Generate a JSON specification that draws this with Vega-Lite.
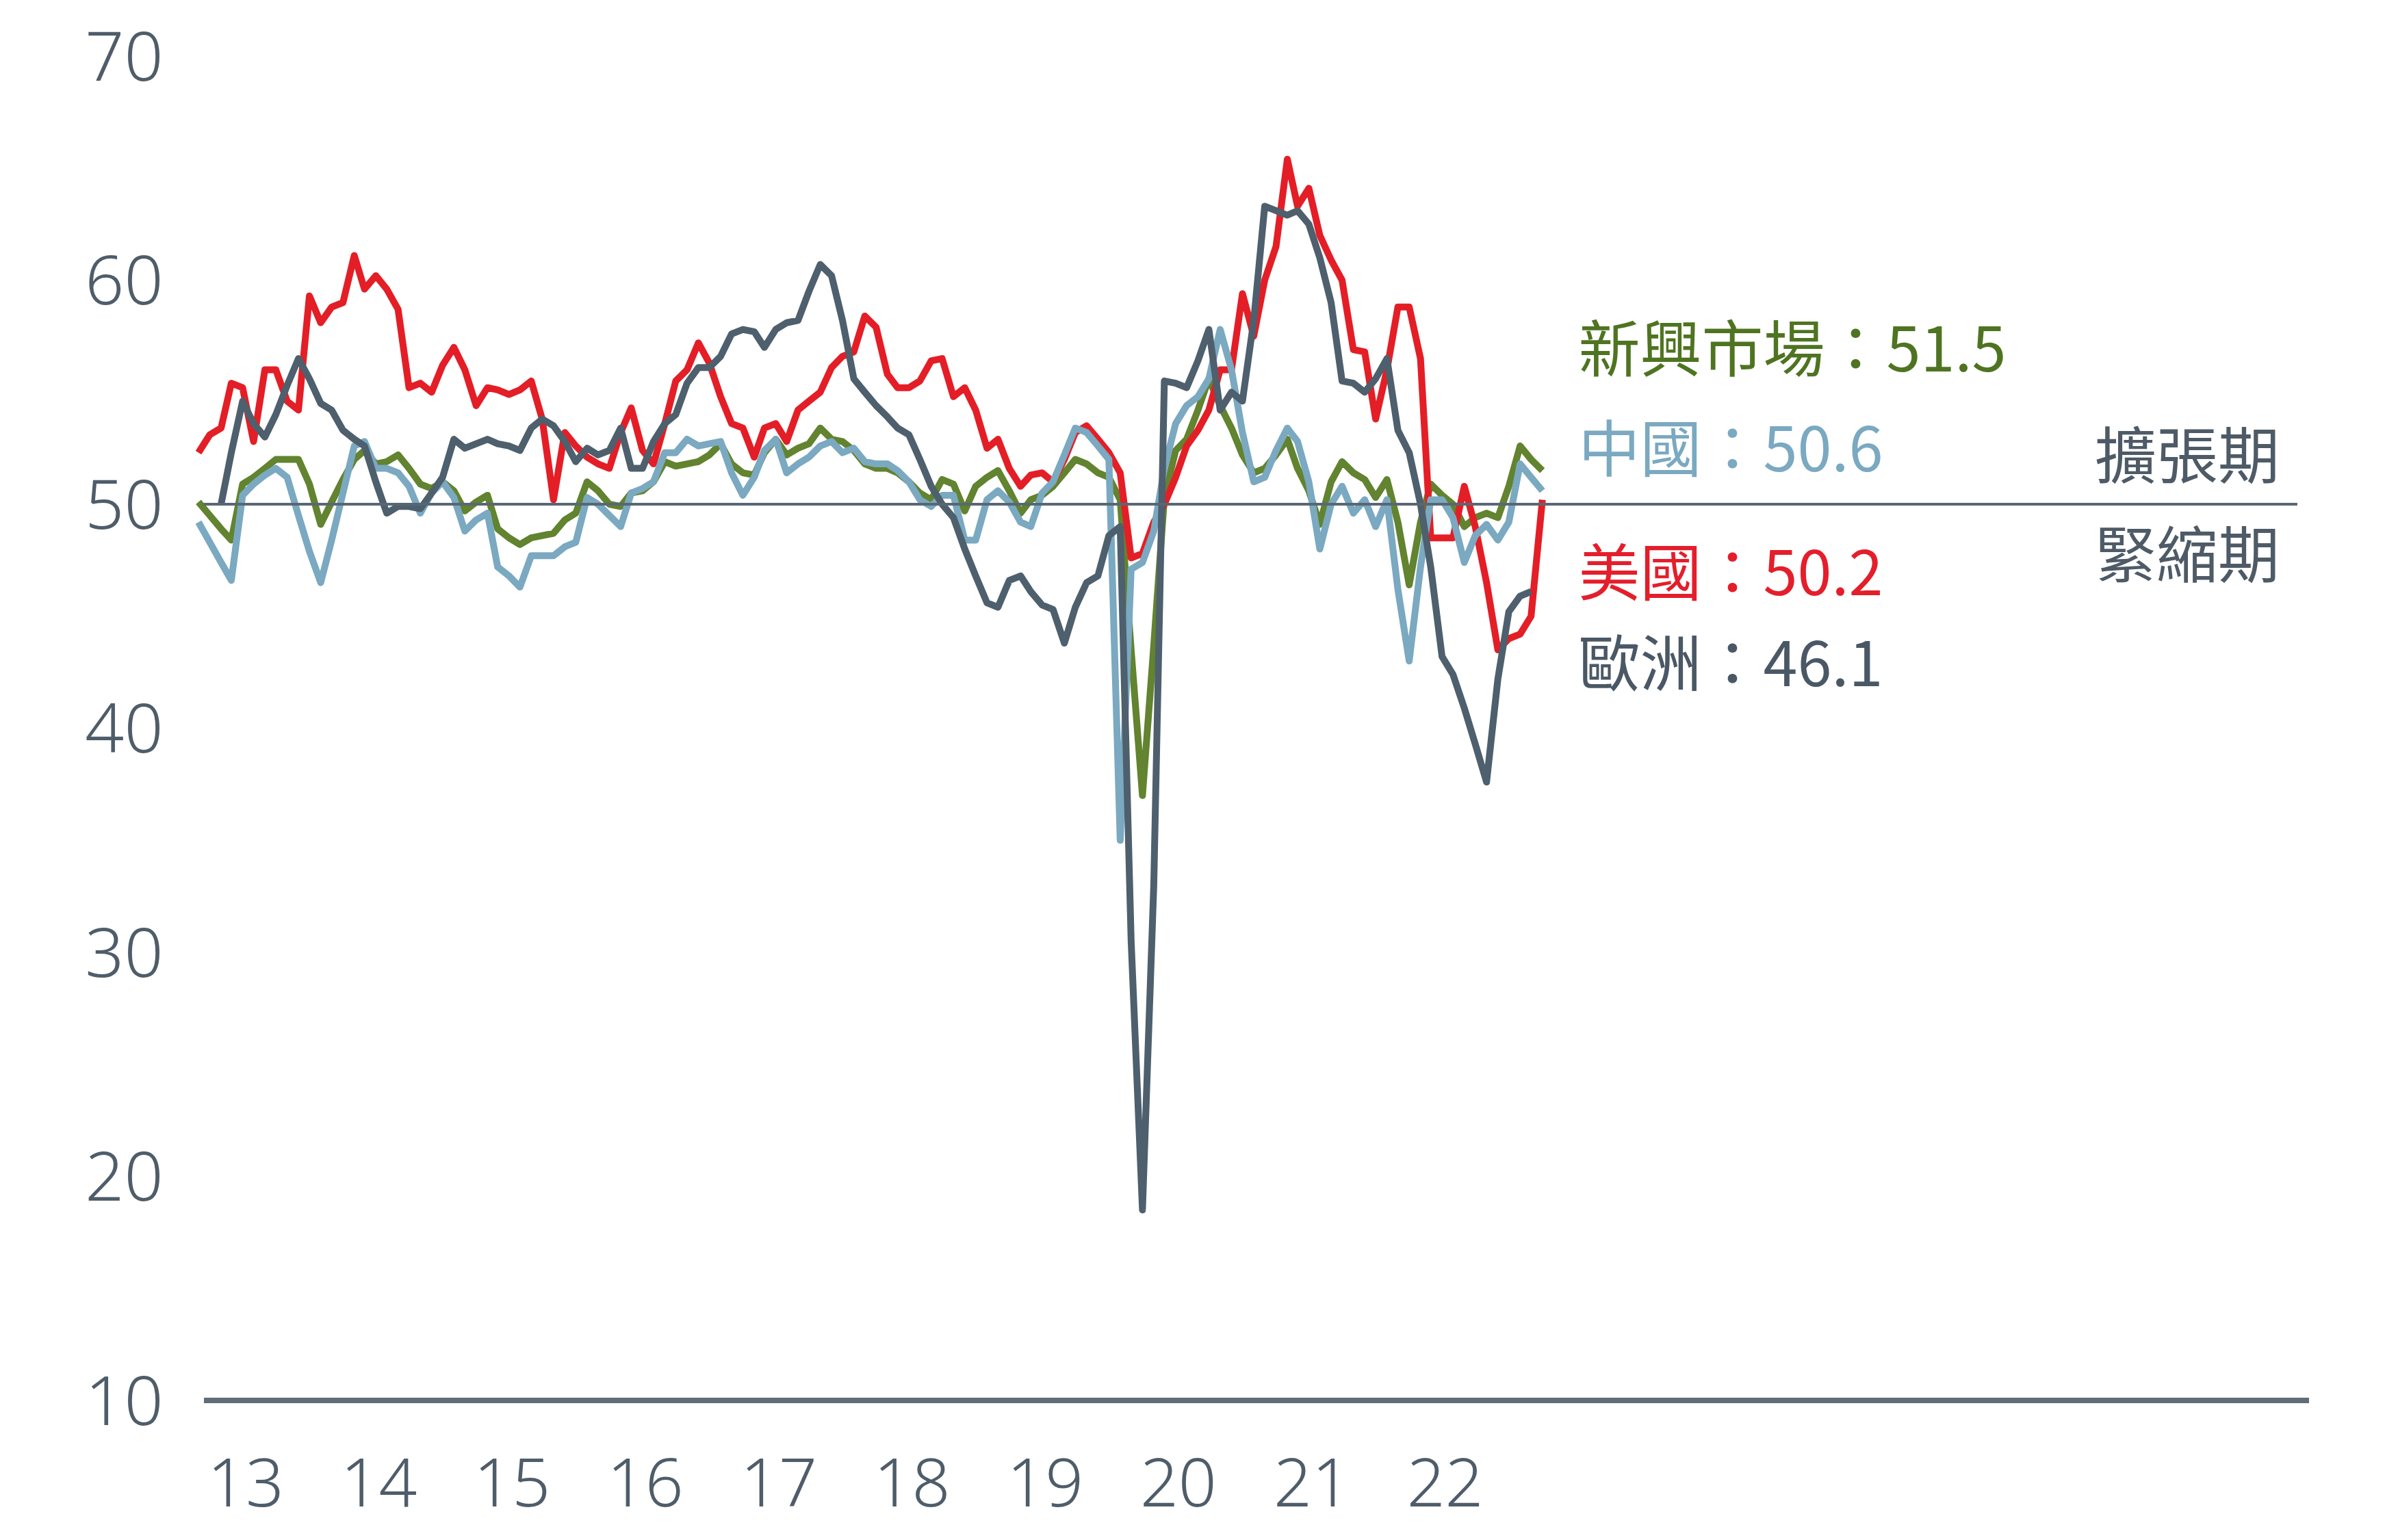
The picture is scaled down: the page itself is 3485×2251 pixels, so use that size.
{
  "$schema": "https://vega.github.io/schema/vega-lite/v6.json",
  "width": 3084,
  "height": 1965,
  "autosize": {"type": "none"},
  "padding": {"left": 290, "top": 82, "right": 111, "bottom": 204},
  "background": "#ffffff",
  "config": {"view": {"stroke": null}},
  "datasets": {
    "pmi": [
      {"d": "2012-12-01", "us": 52.3, "em": 50.1, "cn": 49.2, "eu": null},
      {"d": "2013-01-01", "us": 53.1, "em": 49.5, "cn": 48.3, "eu": null},
      {"d": "2013-02-01", "us": 53.4, "em": 48.9, "cn": 47.4, "eu": 50.0},
      {"d": "2013-03-01", "us": 55.4, "em": 48.4, "cn": 46.6, "eu": 52.3},
      {"d": "2013-04-01", "us": 55.2, "em": 50.9, "cn": 50.4, "eu": 54.6},
      {"d": "2013-05-01", "us": 52.8, "em": 51.2, "cn": 50.9, "eu": 53.6},
      {"d": "2013-06-01", "us": 56.0, "em": 51.6, "cn": 51.3, "eu": 53.0},
      {"d": "2013-07-01", "us": 56.0, "em": 52.0, "cn": 51.6, "eu": 54.0},
      {"d": "2013-08-01", "us": 54.6, "em": 52.0, "cn": 51.2, "eu": 55.3},
      {"d": "2013-09-01", "us": 54.2, "em": 52.0, "cn": 49.5, "eu": 56.5},
      {"d": "2013-10-01", "us": 59.3, "em": 50.9, "cn": 47.9, "eu": 55.6},
      {"d": "2013-11-01", "us": 58.1, "em": 49.1, "cn": 46.5, "eu": 54.5},
      {"d": "2013-12-01", "us": 58.8, "em": 50.1, "cn": 48.4, "eu": 54.2},
      {"d": "2014-01-01", "us": 59.0, "em": 51.1, "cn": 50.5, "eu": 53.3},
      {"d": "2014-02-01", "us": 61.1, "em": 52.0, "cn": 52.6, "eu": 52.9},
      {"d": "2014-03-01", "us": 59.6, "em": 52.4, "cn": 52.8, "eu": 52.6},
      {"d": "2014-04-01", "us": 60.2, "em": 51.8, "cn": 51.6, "eu": 51.0},
      {"d": "2014-05-01", "us": 59.6, "em": 51.9, "cn": 51.6, "eu": 49.6},
      {"d": "2014-06-01", "us": 58.7, "em": 52.2, "cn": 51.4, "eu": 49.9},
      {"d": "2014-07-01", "us": 55.2, "em": 51.6, "cn": 50.8, "eu": 49.9},
      {"d": "2014-08-01", "us": 55.4, "em": 50.9, "cn": 49.6, "eu": 49.8},
      {"d": "2014-09-01", "us": 55.0, "em": 50.7, "cn": 50.5, "eu": 50.5},
      {"d": "2014-10-01", "us": 56.2, "em": 51.0, "cn": 51.0, "eu": 51.2},
      {"d": "2014-11-01", "us": 57.0, "em": 50.6, "cn": 50.3, "eu": 52.9},
      {"d": "2014-12-01", "us": 56.0, "em": 49.7, "cn": 48.8, "eu": 52.5},
      {"d": "2015-01-01", "us": 54.4, "em": 50.1, "cn": 49.3, "eu": 52.7},
      {"d": "2015-02-01", "us": 55.2, "em": 50.4, "cn": 49.6, "eu": 52.9},
      {"d": "2015-03-01", "us": 55.1, "em": 48.9, "cn": 47.2, "eu": 52.7},
      {"d": "2015-04-01", "us": 54.9, "em": 48.5, "cn": 46.8, "eu": 52.6},
      {"d": "2015-05-01", "us": 55.1, "em": 48.2, "cn": 46.3, "eu": 52.4},
      {"d": "2015-06-01", "us": 55.5, "em": 48.5, "cn": 47.7, "eu": 53.4},
      {"d": "2015-07-01", "us": 53.8, "em": 48.6, "cn": 47.7, "eu": 53.8},
      {"d": "2015-08-01", "us": 50.2, "em": 48.7, "cn": 47.7, "eu": 53.5},
      {"d": "2015-09-01", "us": 53.2, "em": 49.3, "cn": 48.1, "eu": 52.8},
      {"d": "2015-10-01", "us": 52.6, "em": 49.6, "cn": 48.3, "eu": 51.9},
      {"d": "2015-11-01", "us": 52.1, "em": 51.0, "cn": 50.3, "eu": 52.5},
      {"d": "2015-12-01", "us": 51.8, "em": 50.6, "cn": 50.0, "eu": 52.2},
      {"d": "2016-01-01", "us": 51.6, "em": 50.0, "cn": 49.5, "eu": 52.4},
      {"d": "2016-02-01", "us": 53.2, "em": 49.9, "cn": 49.0, "eu": 53.4},
      {"d": "2016-03-01", "us": 54.3, "em": 50.5, "cn": 50.5, "eu": 51.6},
      {"d": "2016-04-01", "us": 52.4, "em": 50.6, "cn": 50.7, "eu": 51.6},
      {"d": "2016-05-01", "us": 51.8, "em": 51.0, "cn": 51.0, "eu": 52.8},
      {"d": "2016-06-01", "us": 53.6, "em": 51.9, "cn": 52.3, "eu": 53.6},
      {"d": "2016-07-01", "us": 55.5, "em": 51.7, "cn": 52.3, "eu": 54.0},
      {"d": "2016-08-01", "us": 56.0, "em": 51.8, "cn": 52.9, "eu": 55.4},
      {"d": "2016-09-01", "us": 57.2, "em": 51.9, "cn": 52.6, "eu": 56.1},
      {"d": "2016-10-01", "us": 56.3, "em": 52.2, "cn": 52.7, "eu": 56.1},
      {"d": "2016-11-01", "us": 54.8, "em": 52.7, "cn": 52.8, "eu": 56.6},
      {"d": "2016-12-01", "us": 53.6, "em": 51.8, "cn": 51.4, "eu": 57.6},
      {"d": "2017-01-01", "us": 53.4, "em": 51.4, "cn": 50.4, "eu": 57.8},
      {"d": "2017-02-01", "us": 52.1, "em": 51.3, "cn": 51.2, "eu": 57.7},
      {"d": "2017-03-01", "us": 53.4, "em": 52.3, "cn": 52.4, "eu": 57.0},
      {"d": "2017-04-01", "us": 53.6, "em": 52.9, "cn": 52.9, "eu": 57.8},
      {"d": "2017-05-01", "us": 52.8, "em": 52.2, "cn": 51.4, "eu": 58.1},
      {"d": "2017-06-01", "us": 54.2, "em": 52.5, "cn": 51.8, "eu": 58.2},
      {"d": "2017-07-01", "us": 54.6, "em": 52.7, "cn": 52.1, "eu": 59.5},
      {"d": "2017-08-01", "us": 55.0, "em": 53.4, "cn": 52.6, "eu": 60.7},
      {"d": "2017-09-01", "us": 56.1, "em": 52.9, "cn": 52.8, "eu": 60.2},
      {"d": "2017-10-01", "us": 56.6, "em": 52.8, "cn": 52.3, "eu": 58.2},
      {"d": "2017-11-01", "us": 56.8, "em": 52.4, "cn": 52.5, "eu": 55.6},
      {"d": "2017-12-01", "us": 58.4, "em": 51.8, "cn": 51.9, "eu": 55.0},
      {"d": "2018-01-01", "us": 57.9, "em": 51.6, "cn": 51.8, "eu": 54.4},
      {"d": "2018-02-01", "us": 55.8, "em": 51.6, "cn": 51.8, "eu": 53.9},
      {"d": "2018-03-01", "us": 55.2, "em": 51.4, "cn": 51.5, "eu": 53.4},
      {"d": "2018-04-01", "us": 55.2, "em": 51.0, "cn": 51.0, "eu": 53.1},
      {"d": "2018-05-01", "us": 55.5, "em": 50.5, "cn": 50.2, "eu": 52.0},
      {"d": "2018-06-01", "us": 56.4, "em": 50.2, "cn": 49.9, "eu": 50.8},
      {"d": "2018-07-01", "us": 56.5, "em": 51.1, "cn": 50.4, "eu": 50.0},
      {"d": "2018-08-01", "us": 54.8, "em": 50.9, "cn": 50.4, "eu": 49.4},
      {"d": "2018-09-01", "us": 55.2, "em": 49.7, "cn": 48.4, "eu": 48.0},
      {"d": "2018-10-01", "us": 54.2, "em": 50.8, "cn": 48.4, "eu": 46.8},
      {"d": "2018-11-01", "us": 52.5, "em": 51.2, "cn": 50.2, "eu": 45.6},
      {"d": "2018-12-01", "us": 52.9, "em": 51.5, "cn": 50.6, "eu": 45.4},
      {"d": "2019-01-01", "us": 51.6, "em": 50.6, "cn": 50.1, "eu": 46.6},
      {"d": "2019-02-01", "us": 50.8, "em": 49.6, "cn": 49.2, "eu": 46.8},
      {"d": "2019-03-01", "us": 51.3, "em": 50.2, "cn": 49.0, "eu": 46.1},
      {"d": "2019-04-01", "us": 51.4, "em": 50.4, "cn": 50.5, "eu": 45.5},
      {"d": "2019-05-01", "us": 51.0, "em": 50.8, "cn": 51.0, "eu": 45.3},
      {"d": "2019-06-01", "us": 52.0, "em": 51.4, "cn": 52.2, "eu": 43.8},
      {"d": "2019-07-01", "us": 53.2, "em": 52.0, "cn": 53.4, "eu": 45.4},
      {"d": "2019-08-01", "us": 53.5, "em": 51.8, "cn": 53.2, "eu": 46.5},
      {"d": "2019-09-01", "us": 52.9, "em": 51.4, "cn": 52.6, "eu": 46.8},
      {"d": "2019-10-01", "us": 52.3, "em": 51.2, "cn": 52.0, "eu": 48.6},
      {"d": "2019-11-01", "us": 51.4, "em": 50.2, "cn": 35.0, "eu": 49.0},
      {"d": "2019-12-01", "us": 47.6, "em": 43.5, "cn": 47.1, "eu": 30.5},
      {"d": "2020-01-01", "us": 47.8, "em": 37.0, "cn": 47.4, "eu": 18.5},
      {"d": "2020-02-01", "us": 49.2, "em": 43.7, "cn": 48.8, "eu": 33.0},
      {"d": "2020-03-01", "us": 50.0, "em": 50.3, "cn": 51.6, "eu": 55.5},
      {"d": "2020-04-01", "us": 51.2, "em": 52.4, "cn": 53.6, "eu": 55.4},
      {"d": "2020-05-01", "us": 52.6, "em": 52.9, "cn": 54.4, "eu": 55.2},
      {"d": "2020-06-01", "us": 53.3, "em": 54.2, "cn": 54.8, "eu": 56.4},
      {"d": "2020-07-01", "us": 54.2, "em": 55.6, "cn": 55.6, "eu": 57.8},
      {"d": "2020-08-01", "us": 56.0, "em": 54.4, "cn": 57.8, "eu": 54.2},
      {"d": "2020-09-01", "us": 56.0, "em": 53.4, "cn": 56.0, "eu": 55.0},
      {"d": "2020-10-01", "us": 59.4, "em": 52.2, "cn": 53.2, "eu": 54.6},
      {"d": "2020-11-01", "us": 57.5, "em": 51.4, "cn": 51.0, "eu": 58.2},
      {"d": "2020-12-01", "us": 60.0, "em": 51.6, "cn": 51.2, "eu": 63.3},
      {"d": "2021-01-01", "us": 61.5, "em": 52.2, "cn": 52.4, "eu": 63.1},
      {"d": "2021-02-01", "us": 65.4, "em": 52.9, "cn": 53.4, "eu": 62.9},
      {"d": "2021-03-01", "us": 63.3, "em": 51.6, "cn": 52.8, "eu": 63.1},
      {"d": "2021-04-01", "us": 64.1, "em": 50.6, "cn": 51.0, "eu": 62.5},
      {"d": "2021-05-01", "us": 62.0, "em": 49.1, "cn": 48.0, "eu": 61.0},
      {"d": "2021-06-01", "us": 60.9, "em": 51.0, "cn": 50.0, "eu": 59.0},
      {"d": "2021-07-01", "us": 60.0, "em": 51.9, "cn": 50.8, "eu": 55.5},
      {"d": "2021-08-01", "us": 56.9, "em": 51.4, "cn": 49.6, "eu": 55.4},
      {"d": "2021-09-01", "us": 56.8, "em": 51.1, "cn": 50.2, "eu": 55.0},
      {"d": "2021-10-01", "us": 53.8, "em": 50.3, "cn": 49.0, "eu": 55.6},
      {"d": "2021-11-01", "us": 56.0, "em": 51.1, "cn": 50.2, "eu": 56.5},
      {"d": "2021-12-01", "us": 58.8, "em": 49.2, "cn": 46.2, "eu": 53.3},
      {"d": "2022-01-01", "us": 58.8, "em": 46.4, "cn": 43.0, "eu": 52.3},
      {"d": "2022-02-01", "us": 56.5, "em": 49.2, "cn": 47.2, "eu": 50.0},
      {"d": "2022-03-01", "us": 48.5, "em": 50.9, "cn": 50.2, "eu": 47.2},
      {"d": "2022-04-01", "us": 48.5, "em": 50.4, "cn": 50.2, "eu": 43.2},
      {"d": "2022-05-01", "us": 48.5, "em": 50.0, "cn": 49.4, "eu": 42.4},
      {"d": "2022-06-01", "us": 50.8, "em": 49.0, "cn": 47.4, "eu": 40.9},
      {"d": "2022-07-01", "us": 49.0, "em": 49.4, "cn": 48.6, "eu": 39.3},
      {"d": "2022-08-01", "us": 46.5, "em": 49.6, "cn": 49.1, "eu": 37.6},
      {"d": "2022-09-01", "us": 43.5, "em": 49.4, "cn": 48.4, "eu": 42.2},
      {"d": "2022-10-01", "us": 44.0, "em": 50.8, "cn": 49.2, "eu": 45.2},
      {"d": "2022-11-01", "us": 44.2, "em": 52.6, "cn": 51.8, "eu": 45.9},
      {"d": "2022-12-01", "us": 45.0, "em": 52.0, "cn": 51.2, "eu": 46.1},
      {"d": "2023-01-01", "us": 50.2, "em": 51.5, "cn": 50.6, "eu": null}
    ],
    "ann": [
      {"d": "2023-04-10", "v": 55.92, "t": "新興市場：51.5", "s": "em"},
      {"d": "2023-04-10", "v": 51.47, "t": "中國：50.6", "s": "cn"},
      {"d": "2023-04-10", "v": 45.94, "t": "美國：50.2", "s": "us"},
      {"d": "2023-04-10", "v": 41.88, "t": "歐洲：46.1", "s": "eu"},
      {"d": "2027-02-23", "v": 51.16, "t": "擴張期", "s": "zone"},
      {"d": "2027-02-23", "v": 46.73, "t": "緊縮期", "s": "zone"}
    ]
  },
  "encoding": {
    "x": {
      "field": "d",
      "type": "temporal",
      "title": null,
      "scale": {
        "type": "utc",
        "domain": [
          {"year": 2012, "month": 12, "date": 1, "utc": true},
          {"year": 2028, "month": 10, "date": 2, "utc": true}
        ]
      },
      "axis": {
        "values": [
          {"year": 2013, "month": 1, "date": 1, "utc": true},
          {"year": 2014, "month": 1, "date": 1, "utc": true},
          {"year": 2015, "month": 1, "date": 1, "utc": true},
          {"year": 2016, "month": 1, "date": 1, "utc": true},
          {"year": 2017, "month": 1, "date": 1, "utc": true},
          {"year": 2018, "month": 1, "date": 1, "utc": true},
          {"year": 2019, "month": 1, "date": 1, "utc": true},
          {"year": 2020, "month": 1, "date": 1, "utc": true},
          {"year": 2021, "month": 1, "date": 1, "utc": true},
          {"year": 2022, "month": 1, "date": 1, "utc": true}
        ],
        "labelExpr": "utcFormat(datum.value, '%y')",
        "labelLimit": 0,
        "grid": false,
        "domain": false,
        "ticks": false,
        "tickSize": 0,
        "labelAlign": "left",
        "labelBaseline": "top",
        "labelPadding": 77,
        "labelOffset": -4,
        "labelFontSize": 98,
        "labelFont": "Noto Sans",
        "labelFontWeight": 300,
        "labelColor": "#4f5d6a",
        "labelOverlap": false,
        "labelFlush": false,
        "labelBound": false
      }
    },
    "y": {
      "field": "v",
      "type": "quantitative",
      "title": null,
      "scale": {"domain": [10, 70], "nice": false, "zero": false},
      "axis": {
        "values": [10, 20, 30, 40, 50, 60, 70],
        "labelLimit": 0,
        "grid": false,
        "domain": false,
        "ticks": false,
        "tickSize": 0,
        "labelAlign": "right",
        "labelBaseline": "middle",
        "labelPadding": 52,
        "labelOffset": 5,
        "labelFontSize": 100,
        "labelFont": "Noto Sans",
        "labelFontWeight": 300,
        "labelColor": "#4f5d6a",
        "labelOverlap": false,
        "labelFlush": false,
        "labelBound": false
      }
    }
  },
  "layer": [
    {
      "data": {"name": "pmi"},
      "transform": [{"fold": ["em"], "as": ["s", "v"]}],
      "mark": {"type": "line", "color": "#62832f", "strokeWidth": 10, "strokeJoin": "round"}
    },
    {
      "data": {"name": "pmi"},
      "transform": [{"fold": ["us"], "as": ["s", "v"]}],
      "mark": {"type": "line", "color": "#e41e26", "strokeWidth": 10, "strokeJoin": "round"}
    },
    {
      "data": {"name": "pmi"},
      "transform": [{"fold": ["cn"], "as": ["s", "v"]}],
      "mark": {"type": "line", "color": "#7aa9c1", "strokeWidth": 10, "strokeJoin": "round"}
    },
    {
      "data": {"name": "pmi"},
      "transform": [{"fold": ["eu"], "as": ["s", "v"]}],
      "mark": {"type": "line", "color": "#4e5f6d", "strokeWidth": 10, "strokeJoin": "round"}
    },
    {
      "data": {"values": [{"d": "2012-12-16", "d2": "2028-08-31", "v": 50}]},
      "mark": {"type": "rule", "color": "#586774", "strokeWidth": 4},
      "encoding": {"x2": {"field": "d2"}}
    },
    {
      "data": {"values": [{"d": "2012-12-16", "d2": "2028-10-02", "v": 10}]},
      "mark": {"type": "rule", "color": "#5f6d79", "strokeWidth": 8},
      "encoding": {"x2": {"field": "d2"}}
    },
    {
      "data": {"name": "ann"},
      "mark": {"type": "text", "align": "left", "baseline": "alphabetic", "font": "Noto Sans CJK TC", "fontSize": 90},
      "encoding": {
        "text": {"field": "t"},
        "color": {
          "field": "s",
          "type": "nominal",
          "scale": {"domain": ["em", "cn", "us", "eu", "zone"], "range": ["#4f7421", "#7aa9c1", "#e41e2b", "#4a5866", "#4e5b67"]},
          "legend": null
        }
      }
    }
  ]
}
